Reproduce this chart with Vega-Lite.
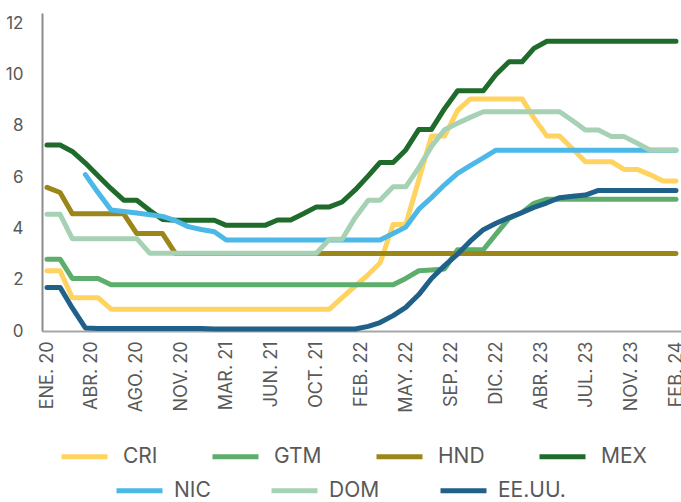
{
"$schema": "https://vega.github.io/schema/vega-lite/v6.json",
"width": 639, "height": 318,
"autosize": "none",
"padding": {"left": 42, "top": 13, "right": 0, "bottom": 171},
"config": {"view": {"stroke": null}, "font": "Inter"},
"data": {"values": [
{"mes":"2020-01-01","pais":"CRI","tasa":2.35},{"mes":"2020-02-01","pais":"CRI","tasa":2.35},{"mes":"2020-03-01","pais":"CRI","tasa":1.3},{"mes":"2020-04-01","pais":"CRI","tasa":1.3},{"mes":"2020-05-01","pais":"CRI","tasa":1.3},{"mes":"2020-06-01","pais":"CRI","tasa":0.85},{"mes":"2020-07-01","pais":"CRI","tasa":0.85},{"mes":"2020-08-01","pais":"CRI","tasa":0.85},{"mes":"2020-09-01","pais":"CRI","tasa":0.85},{"mes":"2020-10-01","pais":"CRI","tasa":0.85},{"mes":"2020-11-01","pais":"CRI","tasa":0.85},{"mes":"2020-12-01","pais":"CRI","tasa":0.85},
{"mes":"2021-01-01","pais":"CRI","tasa":0.85},{"mes":"2021-02-01","pais":"CRI","tasa":0.85},{"mes":"2021-03-01","pais":"CRI","tasa":0.85},{"mes":"2021-04-01","pais":"CRI","tasa":0.85},{"mes":"2021-05-01","pais":"CRI","tasa":0.85},{"mes":"2021-06-01","pais":"CRI","tasa":0.85},{"mes":"2021-07-01","pais":"CRI","tasa":0.85},{"mes":"2021-08-01","pais":"CRI","tasa":0.85},{"mes":"2021-09-01","pais":"CRI","tasa":0.85},{"mes":"2021-10-01","pais":"CRI","tasa":0.85},{"mes":"2021-11-01","pais":"CRI","tasa":0.85},{"mes":"2021-12-01","pais":"CRI","tasa":1.3},
{"mes":"2022-01-01","pais":"CRI","tasa":1.75},{"mes":"2022-02-01","pais":"CRI","tasa":2.2},{"mes":"2022-03-01","pais":"CRI","tasa":2.65},{"mes":"2022-04-01","pais":"CRI","tasa":4.15},{"mes":"2022-05-01","pais":"CRI","tasa":4.15},{"mes":"2022-06-01","pais":"CRI","tasa":5.9},{"mes":"2022-07-01","pais":"CRI","tasa":7.6},{"mes":"2022-08-01","pais":"CRI","tasa":7.6},{"mes":"2022-09-01","pais":"CRI","tasa":8.6},{"mes":"2022-10-01","pais":"CRI","tasa":9.05},{"mes":"2022-11-01","pais":"CRI","tasa":9.05},{"mes":"2022-12-01","pais":"CRI","tasa":9.05},
{"mes":"2023-01-01","pais":"CRI","tasa":9.05},{"mes":"2023-02-01","pais":"CRI","tasa":9.05},{"mes":"2023-03-01","pais":"CRI","tasa":8.3},{"mes":"2023-04-01","pais":"CRI","tasa":7.6},{"mes":"2023-05-01","pais":"CRI","tasa":7.6},{"mes":"2023-06-01","pais":"CRI","tasa":7.1},{"mes":"2023-07-01","pais":"CRI","tasa":6.6},{"mes":"2023-08-01","pais":"CRI","tasa":6.6},{"mes":"2023-09-01","pais":"CRI","tasa":6.6},{"mes":"2023-10-01","pais":"CRI","tasa":6.3},{"mes":"2023-11-01","pais":"CRI","tasa":6.3},{"mes":"2023-12-01","pais":"CRI","tasa":6.1},
{"mes":"2024-01-01","pais":"CRI","tasa":5.85},{"mes":"2024-02-01","pais":"CRI","tasa":5.85},

{"mes":"2020-01-01","pais":"GTM","tasa":2.8},{"mes":"2020-02-01","pais":"GTM","tasa":2.8},{"mes":"2020-03-01","pais":"GTM","tasa":2.05},{"mes":"2020-04-01","pais":"GTM","tasa":2.05},{"mes":"2020-05-01","pais":"GTM","tasa":2.05},{"mes":"2020-06-01","pais":"GTM","tasa":1.8},{"mes":"2020-07-01","pais":"GTM","tasa":1.8},{"mes":"2020-08-01","pais":"GTM","tasa":1.8},{"mes":"2020-09-01","pais":"GTM","tasa":1.8},{"mes":"2020-10-01","pais":"GTM","tasa":1.8},{"mes":"2020-11-01","pais":"GTM","tasa":1.8},{"mes":"2020-12-01","pais":"GTM","tasa":1.8},
{"mes":"2021-01-01","pais":"GTM","tasa":1.8},{"mes":"2021-02-01","pais":"GTM","tasa":1.8},{"mes":"2021-03-01","pais":"GTM","tasa":1.8},{"mes":"2021-04-01","pais":"GTM","tasa":1.8},{"mes":"2021-05-01","pais":"GTM","tasa":1.8},{"mes":"2021-06-01","pais":"GTM","tasa":1.8},{"mes":"2021-07-01","pais":"GTM","tasa":1.8},{"mes":"2021-08-01","pais":"GTM","tasa":1.8},{"mes":"2021-09-01","pais":"GTM","tasa":1.8},{"mes":"2021-10-01","pais":"GTM","tasa":1.8},{"mes":"2021-11-01","pais":"GTM","tasa":1.8},{"mes":"2021-12-01","pais":"GTM","tasa":1.8},
{"mes":"2022-01-01","pais":"GTM","tasa":1.8},{"mes":"2022-02-01","pais":"GTM","tasa":1.8},{"mes":"2022-03-01","pais":"GTM","tasa":1.8},{"mes":"2022-04-01","pais":"GTM","tasa":1.8},{"mes":"2022-05-01","pais":"GTM","tasa":2.05},{"mes":"2022-06-01","pais":"GTM","tasa":2.35},{"mes":"2022-07-01","pais":"GTM","tasa":2.38},{"mes":"2022-08-01","pais":"GTM","tasa":2.42},{"mes":"2022-09-01","pais":"GTM","tasa":3.17},{"mes":"2022-10-01","pais":"GTM","tasa":3.17},{"mes":"2022-11-01","pais":"GTM","tasa":3.17},{"mes":"2022-12-01","pais":"GTM","tasa":3.78},
{"mes":"2023-01-01","pais":"GTM","tasa":4.39},{"mes":"2023-02-01","pais":"GTM","tasa":4.62},{"mes":"2023-03-01","pais":"GTM","tasa":4.98},{"mes":"2023-04-01","pais":"GTM","tasa":5.14},{"mes":"2023-05-01","pais":"GTM","tasa":5.14},{"mes":"2023-06-01","pais":"GTM","tasa":5.14},{"mes":"2023-07-01","pais":"GTM","tasa":5.14},{"mes":"2023-08-01","pais":"GTM","tasa":5.14},{"mes":"2023-09-01","pais":"GTM","tasa":5.14},{"mes":"2023-10-01","pais":"GTM","tasa":5.14},{"mes":"2023-11-01","pais":"GTM","tasa":5.14},{"mes":"2023-12-01","pais":"GTM","tasa":5.14},
{"mes":"2024-01-01","pais":"GTM","tasa":5.14},{"mes":"2024-02-01","pais":"GTM","tasa":5.14},

{"mes":"2020-01-01","pais":"HND","tasa":5.6},{"mes":"2020-02-01","pais":"HND","tasa":5.4},{"mes":"2020-03-01","pais":"HND","tasa":4.57},{"mes":"2020-04-01","pais":"HND","tasa":4.57},{"mes":"2020-05-01","pais":"HND","tasa":4.57},{"mes":"2020-06-01","pais":"HND","tasa":4.57},{"mes":"2020-07-01","pais":"HND","tasa":4.57},{"mes":"2020-08-01","pais":"HND","tasa":3.8},{"mes":"2020-09-01","pais":"HND","tasa":3.8},{"mes":"2020-10-01","pais":"HND","tasa":3.8},{"mes":"2020-11-01","pais":"HND","tasa":3.02},{"mes":"2020-12-01","pais":"HND","tasa":3.02},
{"mes":"2021-01-01","pais":"HND","tasa":3.02},{"mes":"2021-02-01","pais":"HND","tasa":3.02},{"mes":"2021-03-01","pais":"HND","tasa":3.02},{"mes":"2021-04-01","pais":"HND","tasa":3.02},{"mes":"2021-05-01","pais":"HND","tasa":3.02},{"mes":"2021-06-01","pais":"HND","tasa":3.02},{"mes":"2021-07-01","pais":"HND","tasa":3.02},{"mes":"2021-08-01","pais":"HND","tasa":3.02},{"mes":"2021-09-01","pais":"HND","tasa":3.02},{"mes":"2021-10-01","pais":"HND","tasa":3.02},{"mes":"2021-11-01","pais":"HND","tasa":3.02},{"mes":"2021-12-01","pais":"HND","tasa":3.02},
{"mes":"2022-01-01","pais":"HND","tasa":3.02},{"mes":"2022-02-01","pais":"HND","tasa":3.02},{"mes":"2022-03-01","pais":"HND","tasa":3.02},{"mes":"2022-04-01","pais":"HND","tasa":3.02},{"mes":"2022-05-01","pais":"HND","tasa":3.02},{"mes":"2022-06-01","pais":"HND","tasa":3.02},{"mes":"2022-07-01","pais":"HND","tasa":3.02},{"mes":"2022-08-01","pais":"HND","tasa":3.02},{"mes":"2022-09-01","pais":"HND","tasa":3.02},{"mes":"2022-10-01","pais":"HND","tasa":3.02},{"mes":"2022-11-01","pais":"HND","tasa":3.02},{"mes":"2022-12-01","pais":"HND","tasa":3.02},
{"mes":"2023-01-01","pais":"HND","tasa":3.02},{"mes":"2023-02-01","pais":"HND","tasa":3.02},{"mes":"2023-03-01","pais":"HND","tasa":3.02},{"mes":"2023-04-01","pais":"HND","tasa":3.02},{"mes":"2023-05-01","pais":"HND","tasa":3.02},{"mes":"2023-06-01","pais":"HND","tasa":3.02},{"mes":"2023-07-01","pais":"HND","tasa":3.02},{"mes":"2023-08-01","pais":"HND","tasa":3.02},{"mes":"2023-09-01","pais":"HND","tasa":3.02},{"mes":"2023-10-01","pais":"HND","tasa":3.02},{"mes":"2023-11-01","pais":"HND","tasa":3.02},{"mes":"2023-12-01","pais":"HND","tasa":3.02},
{"mes":"2024-01-01","pais":"HND","tasa":3.02},{"mes":"2024-02-01","pais":"HND","tasa":3.02},

{"mes":"2020-01-01","pais":"MEX","tasa":7.25},{"mes":"2020-02-01","pais":"MEX","tasa":7.25},{"mes":"2020-03-01","pais":"MEX","tasa":7.0},{"mes":"2020-04-01","pais":"MEX","tasa":6.55},{"mes":"2020-05-01","pais":"MEX","tasa":6.05},{"mes":"2020-06-01","pais":"MEX","tasa":5.55},{"mes":"2020-07-01","pais":"MEX","tasa":5.1},{"mes":"2020-08-01","pais":"MEX","tasa":5.1},{"mes":"2020-09-01","pais":"MEX","tasa":4.7},{"mes":"2020-10-01","pais":"MEX","tasa":4.35},{"mes":"2020-11-01","pais":"MEX","tasa":4.32},{"mes":"2020-12-01","pais":"MEX","tasa":4.32},
{"mes":"2021-01-01","pais":"MEX","tasa":4.32},{"mes":"2021-02-01","pais":"MEX","tasa":4.32},{"mes":"2021-03-01","pais":"MEX","tasa":4.12},{"mes":"2021-04-01","pais":"MEX","tasa":4.12},{"mes":"2021-05-01","pais":"MEX","tasa":4.12},{"mes":"2021-06-01","pais":"MEX","tasa":4.12},{"mes":"2021-07-01","pais":"MEX","tasa":4.33},{"mes":"2021-08-01","pais":"MEX","tasa":4.33},{"mes":"2021-09-01","pais":"MEX","tasa":4.58},{"mes":"2021-10-01","pais":"MEX","tasa":4.84},{"mes":"2021-11-01","pais":"MEX","tasa":4.84},{"mes":"2021-12-01","pais":"MEX","tasa":5.03},
{"mes":"2022-01-01","pais":"MEX","tasa":5.5},{"mes":"2022-02-01","pais":"MEX","tasa":6.05},{"mes":"2022-03-01","pais":"MEX","tasa":6.57},{"mes":"2022-04-01","pais":"MEX","tasa":6.57},{"mes":"2022-05-01","pais":"MEX","tasa":7.06},{"mes":"2022-06-01","pais":"MEX","tasa":7.86},{"mes":"2022-07-01","pais":"MEX","tasa":7.86},{"mes":"2022-08-01","pais":"MEX","tasa":8.67},{"mes":"2022-09-01","pais":"MEX","tasa":9.37},{"mes":"2022-10-01","pais":"MEX","tasa":9.37},{"mes":"2022-11-01","pais":"MEX","tasa":9.37},{"mes":"2022-12-01","pais":"MEX","tasa":10.0},
{"mes":"2023-01-01","pais":"MEX","tasa":10.5},{"mes":"2023-02-01","pais":"MEX","tasa":10.5},{"mes":"2023-03-01","pais":"MEX","tasa":11.02},{"mes":"2023-04-01","pais":"MEX","tasa":11.3},{"mes":"2023-05-01","pais":"MEX","tasa":11.3},{"mes":"2023-06-01","pais":"MEX","tasa":11.3},{"mes":"2023-07-01","pais":"MEX","tasa":11.3},{"mes":"2023-08-01","pais":"MEX","tasa":11.3},{"mes":"2023-09-01","pais":"MEX","tasa":11.3},{"mes":"2023-10-01","pais":"MEX","tasa":11.3},{"mes":"2023-11-01","pais":"MEX","tasa":11.3},{"mes":"2023-12-01","pais":"MEX","tasa":11.3},
{"mes":"2024-01-01","pais":"MEX","tasa":11.3},{"mes":"2024-02-01","pais":"MEX","tasa":11.3},

{"mes":"2020-04-01","pais":"NIC","tasa":6.1},{"mes":"2020-05-01","pais":"NIC","tasa":5.4},{"mes":"2020-06-01","pais":"NIC","tasa":4.72},{"mes":"2020-07-01","pais":"NIC","tasa":4.66},{"mes":"2020-08-01","pais":"NIC","tasa":4.6},{"mes":"2020-09-01","pais":"NIC","tasa":4.53},{"mes":"2020-10-01","pais":"NIC","tasa":4.47},{"mes":"2020-11-01","pais":"NIC","tasa":4.3},{"mes":"2020-12-01","pais":"NIC","tasa":4.07},
{"mes":"2021-01-01","pais":"NIC","tasa":3.96},{"mes":"2021-02-01","pais":"NIC","tasa":3.87},{"mes":"2021-03-01","pais":"NIC","tasa":3.55},{"mes":"2021-04-01","pais":"NIC","tasa":3.55},{"mes":"2021-05-01","pais":"NIC","tasa":3.55},{"mes":"2021-06-01","pais":"NIC","tasa":3.55},{"mes":"2021-07-01","pais":"NIC","tasa":3.55},{"mes":"2021-08-01","pais":"NIC","tasa":3.55},{"mes":"2021-09-01","pais":"NIC","tasa":3.55},{"mes":"2021-10-01","pais":"NIC","tasa":3.55},{"mes":"2021-11-01","pais":"NIC","tasa":3.55},{"mes":"2021-12-01","pais":"NIC","tasa":3.55},
{"mes":"2022-01-01","pais":"NIC","tasa":3.55},{"mes":"2022-02-01","pais":"NIC","tasa":3.55},{"mes":"2022-03-01","pais":"NIC","tasa":3.55},{"mes":"2022-04-01","pais":"NIC","tasa":3.8},{"mes":"2022-05-01","pais":"NIC","tasa":4.05},{"mes":"2022-06-01","pais":"NIC","tasa":4.75},{"mes":"2022-07-01","pais":"NIC","tasa":5.2},{"mes":"2022-08-01","pais":"NIC","tasa":5.7},{"mes":"2022-09-01","pais":"NIC","tasa":6.15},{"mes":"2022-10-01","pais":"NIC","tasa":6.45},{"mes":"2022-11-01","pais":"NIC","tasa":6.75},{"mes":"2022-12-01","pais":"NIC","tasa":7.05},
{"mes":"2023-01-01","pais":"NIC","tasa":7.05},{"mes":"2023-02-01","pais":"NIC","tasa":7.05},{"mes":"2023-03-01","pais":"NIC","tasa":7.05},{"mes":"2023-04-01","pais":"NIC","tasa":7.05},{"mes":"2023-05-01","pais":"NIC","tasa":7.05},{"mes":"2023-06-01","pais":"NIC","tasa":7.05},{"mes":"2023-07-01","pais":"NIC","tasa":7.05},{"mes":"2023-08-01","pais":"NIC","tasa":7.05},{"mes":"2023-09-01","pais":"NIC","tasa":7.05},{"mes":"2023-10-01","pais":"NIC","tasa":7.05},{"mes":"2023-11-01","pais":"NIC","tasa":7.05},{"mes":"2023-12-01","pais":"NIC","tasa":7.05},
{"mes":"2024-01-01","pais":"NIC","tasa":7.05},{"mes":"2024-02-01","pais":"NIC","tasa":7.05},

{"mes":"2020-01-01","pais":"DOM","tasa":4.55},{"mes":"2020-02-01","pais":"DOM","tasa":4.55},{"mes":"2020-03-01","pais":"DOM","tasa":3.6},{"mes":"2020-04-01","pais":"DOM","tasa":3.6},{"mes":"2020-05-01","pais":"DOM","tasa":3.6},{"mes":"2020-06-01","pais":"DOM","tasa":3.6},{"mes":"2020-07-01","pais":"DOM","tasa":3.6},{"mes":"2020-08-01","pais":"DOM","tasa":3.6},{"mes":"2020-09-01","pais":"DOM","tasa":3.03},{"mes":"2020-10-01","pais":"DOM","tasa":3.03},{"mes":"2020-11-01","pais":"DOM","tasa":3.03},{"mes":"2020-12-01","pais":"DOM","tasa":3.03},
{"mes":"2021-01-01","pais":"DOM","tasa":3.03},{"mes":"2021-02-01","pais":"DOM","tasa":3.03},{"mes":"2021-03-01","pais":"DOM","tasa":3.03},{"mes":"2021-04-01","pais":"DOM","tasa":3.03},{"mes":"2021-05-01","pais":"DOM","tasa":3.03},{"mes":"2021-06-01","pais":"DOM","tasa":3.03},{"mes":"2021-07-01","pais":"DOM","tasa":3.03},{"mes":"2021-08-01","pais":"DOM","tasa":3.03},{"mes":"2021-09-01","pais":"DOM","tasa":3.03},{"mes":"2021-10-01","pais":"DOM","tasa":3.03},{"mes":"2021-11-01","pais":"DOM","tasa":3.58},{"mes":"2021-12-01","pais":"DOM","tasa":3.58},
{"mes":"2022-01-01","pais":"DOM","tasa":4.42},{"mes":"2022-02-01","pais":"DOM","tasa":5.1},{"mes":"2022-03-01","pais":"DOM","tasa":5.1},{"mes":"2022-04-01","pais":"DOM","tasa":5.62},{"mes":"2022-05-01","pais":"DOM","tasa":5.62},{"mes":"2022-06-01","pais":"DOM","tasa":6.37},{"mes":"2022-07-01","pais":"DOM","tasa":7.2},{"mes":"2022-08-01","pais":"DOM","tasa":7.85},{"mes":"2022-09-01","pais":"DOM","tasa":8.1},{"mes":"2022-10-01","pais":"DOM","tasa":8.33},{"mes":"2022-11-01","pais":"DOM","tasa":8.55},{"mes":"2022-12-01","pais":"DOM","tasa":8.55},
{"mes":"2023-01-01","pais":"DOM","tasa":8.55},{"mes":"2023-02-01","pais":"DOM","tasa":8.55},{"mes":"2023-03-01","pais":"DOM","tasa":8.55},{"mes":"2023-04-01","pais":"DOM","tasa":8.55},{"mes":"2023-05-01","pais":"DOM","tasa":8.55},{"mes":"2023-06-01","pais":"DOM","tasa":8.2},{"mes":"2023-07-01","pais":"DOM","tasa":7.84},{"mes":"2023-08-01","pais":"DOM","tasa":7.84},{"mes":"2023-09-01","pais":"DOM","tasa":7.58},{"mes":"2023-10-01","pais":"DOM","tasa":7.58},{"mes":"2023-11-01","pais":"DOM","tasa":7.32},{"mes":"2023-12-01","pais":"DOM","tasa":7.06},
{"mes":"2024-01-01","pais":"DOM","tasa":7.06},{"mes":"2024-02-01","pais":"DOM","tasa":7.06},

{"mes":"2020-01-01","pais":"EE.UU.","tasa":1.7},{"mes":"2020-02-01","pais":"EE.UU.","tasa":1.7},{"mes":"2020-03-01","pais":"EE.UU.","tasa":0.9},{"mes":"2020-04-01","pais":"EE.UU.","tasa":0.12},{"mes":"2020-05-01","pais":"EE.UU.","tasa":0.1},{"mes":"2020-06-01","pais":"EE.UU.","tasa":0.1},{"mes":"2020-07-01","pais":"EE.UU.","tasa":0.1},{"mes":"2020-08-01","pais":"EE.UU.","tasa":0.1},{"mes":"2020-09-01","pais":"EE.UU.","tasa":0.1},{"mes":"2020-10-01","pais":"EE.UU.","tasa":0.1},{"mes":"2020-11-01","pais":"EE.UU.","tasa":0.1},{"mes":"2020-12-01","pais":"EE.UU.","tasa":0.1},
{"mes":"2021-01-01","pais":"EE.UU.","tasa":0.1},{"mes":"2021-02-01","pais":"EE.UU.","tasa":0.08},{"mes":"2021-03-01","pais":"EE.UU.","tasa":0.08},{"mes":"2021-04-01","pais":"EE.UU.","tasa":0.08},{"mes":"2021-05-01","pais":"EE.UU.","tasa":0.08},{"mes":"2021-06-01","pais":"EE.UU.","tasa":0.08},{"mes":"2021-07-01","pais":"EE.UU.","tasa":0.08},{"mes":"2021-08-01","pais":"EE.UU.","tasa":0.08},{"mes":"2021-09-01","pais":"EE.UU.","tasa":0.08},{"mes":"2021-10-01","pais":"EE.UU.","tasa":0.08},{"mes":"2021-11-01","pais":"EE.UU.","tasa":0.08},{"mes":"2021-12-01","pais":"EE.UU.","tasa":0.08},
{"mes":"2022-01-01","pais":"EE.UU.","tasa":0.08},{"mes":"2022-02-01","pais":"EE.UU.","tasa":0.18},{"mes":"2022-03-01","pais":"EE.UU.","tasa":0.33},{"mes":"2022-04-01","pais":"EE.UU.","tasa":0.6},{"mes":"2022-05-01","pais":"EE.UU.","tasa":0.92},{"mes":"2022-06-01","pais":"EE.UU.","tasa":1.42},{"mes":"2022-07-01","pais":"EE.UU.","tasa":2.05},{"mes":"2022-08-01","pais":"EE.UU.","tasa":2.55},{"mes":"2022-09-01","pais":"EE.UU.","tasa":3.0},{"mes":"2022-10-01","pais":"EE.UU.","tasa":3.5},{"mes":"2022-11-01","pais":"EE.UU.","tasa":3.95},{"mes":"2022-12-01","pais":"EE.UU.","tasa":4.2},
{"mes":"2023-01-01","pais":"EE.UU.","tasa":4.42},{"mes":"2023-02-01","pais":"EE.UU.","tasa":4.62},{"mes":"2023-03-01","pais":"EE.UU.","tasa":4.82},{"mes":"2023-04-01","pais":"EE.UU.","tasa":5.0},{"mes":"2023-05-01","pais":"EE.UU.","tasa":5.2},{"mes":"2023-06-01","pais":"EE.UU.","tasa":5.25},{"mes":"2023-07-01","pais":"EE.UU.","tasa":5.3},{"mes":"2023-08-01","pais":"EE.UU.","tasa":5.48},{"mes":"2023-09-01","pais":"EE.UU.","tasa":5.48},{"mes":"2023-10-01","pais":"EE.UU.","tasa":5.48},{"mes":"2023-11-01","pais":"EE.UU.","tasa":5.48},{"mes":"2023-12-01","pais":"EE.UU.","tasa":5.48},
{"mes":"2024-01-01","pais":"EE.UU.","tasa":5.48},{"mes":"2024-02-01","pais":"EE.UU.","tasa":5.48}
]},
"encoding": {
  "x": {"field": "mes", "type": "temporal",
    "scale": {"nice": false, "padding": 5},
    "axis": {"values": [1577836800000,1587044571429,1596252342857,1605460114286,1614667885714,1623875657143,1633083428571,1642291200000,1651498971429,1660706742857,1669914514286,1679122285714,1688330057143,1697537828571,1706745600000],
      "labelExpr": "['ENE. 20','ABR. 20','AGO. 20','NOV. 20','MAR. 21','JUN. 21','OCT. 21','FEB. 22','MAY. 22','SEP. 22','DIC. 22','ABR. 23','JUL. 23','NOV. 23','FEB. 24'][round(datum.index*14)]",
      "labelAngle": -90, "labelFontSize": 18, "labelColor": "#595959", "labelPadding": 10,
      "labelFlush": false, "labelOverlap": false, "labelFont": "Inter",
      "ticks": false, "grid": false, "domainColor": "#a6a6a6", "domainWidth": 2, "title": null}},
  "y": {"field": "tasa", "type": "quantitative",
    "scale": {"domain": [0, 12.4], "nice": false, "zero": true},
    "axis": {"values": [0,2,4,6,8,10,12], "labelFontSize": 17, "labelColor": "#595959", "labelPadding": 19,
      "labelFont": "Inter", "ticks": false, "grid": false, "domainColor": "#8c8c8c", "domainWidth": 2, "title": null}}
},
"layer": [
  {"transform": [{"filter": {"field": "pais", "oneOf": ["CRI","GTM","HND","MEX"]}}],
   "mark": {"type": "line", "strokeWidth": 5, "strokeCap": "round", "strokeJoin": "round"},
   "encoding": {"color": {"field": "pais", "type": "nominal",
     "scale": {"domain": ["CRI","GTM","HND","MEX"], "range": ["#FFD35F","#5DAE6C","#9B861A","#1F6B2B"]},
     "legend": {"title": null, "orient": "none", "legendX": 30, "legendY": 431, "direction": "horizontal", "columns": 4,
       "symbolType": "M-2.3,0H2.3", "symbolSize": 400, "symbolStrokeWidth": 5,
       "labelFontSize": 21, "labelColor": "#595959", "labelFont": "Inter", "labelOffset": 26, "columnPadding": 44, "padding": 0}}}},
  {"transform": [{"filter": {"field": "pais", "oneOf": ["NIC","DOM","EE.UU."]}}],
   "mark": {"type": "line", "strokeWidth": 5, "strokeCap": "round", "strokeJoin": "round"},
   "encoding": {"stroke": {"field": "pais", "type": "nominal",
     "scale": {"domain": ["NIC","DOM","EE.UU."], "range": ["#4BB8E7","#A7D1B5","#1F6189"]},
     "legend": {"title": null, "orient": "none", "legendX": 85, "legendY": 465, "direction": "horizontal", "columns": 3,
       "symbolType": "M-2.3,0H2.3", "symbolSize": 400, "symbolStrokeWidth": 5,
       "labelFontSize": 21, "labelColor": "#595959", "labelFont": "Inter", "labelOffset": 22, "columnPadding": 50, "padding": 0}}}}
]
}
